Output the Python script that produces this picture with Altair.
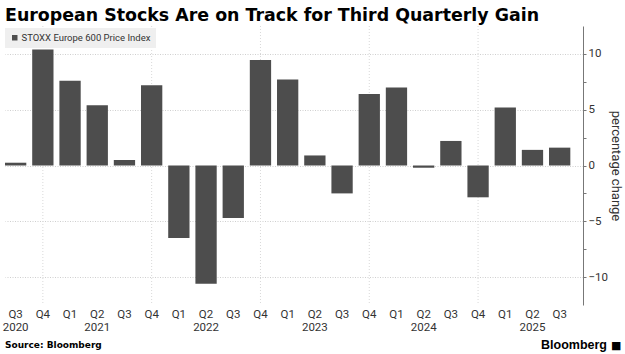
import altair as alt
import pandas as pd

years = ["2020", "2020", "2021", "2021", "2021", "2021", "2022", "2022", "2022", "2022",
         "2023", "2023", "2023", "2023", "2024", "2024", "2024", "2024", "2025", "2025", "2025"]
quarters = ["Q3", "Q4", "Q1", "Q2", "Q3", "Q4", "Q1", "Q2", "Q3", "Q4",
            "Q1", "Q2", "Q3", "Q4", "Q1", "Q2", "Q3", "Q4", "Q1", "Q2", "Q3"]
changes = [0.25, 10.4, 7.6, 5.4, 0.5, 7.2, -6.5, -10.6, -4.7, 9.45,
           7.7, 0.9, -2.5, 6.4, 7.0, -0.2, 2.2, -2.85, 5.2, 1.4, 1.6]
y_ticks = [-10, -7.5, -5, -2.5, 0, 2.5, 5, 7.5, 10]

series_name = "STOXX Europe 600 Price Index"
title_text = "European Stocks Are on Track for Third Quarterly Gain"
source_text = "Source: Bloomberg"
brand_text = "Bloomberg"

df = pd.DataFrame({
    "key": [f"{y} {q}" for y, q in zip(years, quarters)],
    "quarter": quarters,
    "year": years,
    "change": changes,
    "series": series_name,
})
df["year_label"] = [y if (q == "Q2" or i == 0) else "" for i, (y, q) in enumerate(zip(years, quarters))]
order = list(df["key"])

label_font = "Roboto"

x_enc = alt.X(
    "key:N",
    sort=order,
    scale=alt.Scale(paddingInner=0.217, paddingOuter=0.233, align=0),
    axis=None,
)

y_scale = alt.Scale(domain=[-12.5, 12.5], nice=False, zero=False)

base = alt.Chart(df)

grid_v = (
    base.mark_rule(color="#d9d9d9", strokeDash=[1, 2], strokeWidth=1)
    .encode(
        x=x_enc,
        y=alt.value(0),
        y2=alt.value(279),
        opacity=alt.condition("datum.quarter == 'Q4'", alt.value(1), alt.value(0)),
    )
)

bars = (
    base.mark_bar(stroke=None)
    .encode(
        x=x_enc,
        y=alt.Y(
            "change:Q",
            scale=y_scale,
            axis=alt.Axis(
                orient="right",
                values=y_ticks,
                title="percentage change",
                titleFont="Roboto",
                titleFontSize=13,
                titleFontWeight="normal",
                titleColor="#333333",
                titlePadding=1,
                labelExpr="datum.value % 5 == 0 ? format(datum.value, 'd') : ''",
                labelFont=label_font,
                labelFontSize=11.5,
                labelColor="#333333",
                labelPadding=2,
                domainColor="#777777",
                tickColor="#777777",
                tickSize=3,
                grid=True,
                gridColor="#cfcfcf",
                gridDash=[1, 1.5],
                gridOpacity={"condition": {"test": "datum.value % 5 == 0", "value": 1}, "value": 0},
            ),
        ),
        y2=alt.datum(0),
        color=alt.Color(
            "series:N",
            scale=alt.Scale(domain=[series_name], range=["#4d4d4d"]),
            legend=alt.Legend(
                title=None,
                orient="none",
                legendX=0,
                legendY=2,
                fillColor="#efefef",
                padding=5,
                symbolType="square",
                symbolSize=30,
                symbolStrokeWidth=0,
                labelFont=label_font,
                labelFontSize=9.5,
                labelColor="#333333",
                labelOffset=2,
            ),
        ),
    )
)

q_labels = (
    base.mark_text(align="center", baseline="middle", font=label_font, fontSize=11.5, color="#333333")
    .encode(x=x_enc, y=alt.value(289), text="quarter:N")
)

yr_labels = (
    base.mark_text(align="center", baseline="middle", font=label_font, fontSize=11.5, color="#333333")
    .encode(x=x_enc, y=alt.value(302), text="year_label:N")
)

title = (
    alt.Chart(pd.DataFrame({"t": [title_text]}))
    .mark_text(align="left", baseline="alphabetic", font="DejaVu Sans", fontWeight="bold",
               fontSize=17.4, color="#000000")
    .encode(text="t:N", x=alt.value(0), y=alt.value(-5))
)

source = (
    alt.Chart(pd.DataFrame({"t": [source_text]}))
    .mark_text(align="left", baseline="alphabetic", font="DejaVu Sans", fontWeight="bold",
               fontSize=9, color="#000000")
    .encode(text="t:N", x=alt.value(0), y=alt.value(322))
)

brand = (
    alt.Chart(pd.DataFrame({"t": [brand_text]}))
    .mark_text(align="right", baseline="alphabetic", font="Liberation Sans", fontWeight="bold",
               fontSize=12.5, color="#000000")
    .encode(text="t:N", x=alt.value(602), y=alt.value(323))
)

brand_icon = (
    alt.Chart(pd.DataFrame({"t": ["■"]}))
    .mark_text(align="left", baseline="alphabetic", font="DejaVu Sans",
               fontSize=11, color="#000000")
    .encode(text="t:N", x=alt.value(606), y=alt.value(323))
)

chart = (
    alt.layer(grid_v, bars, q_labels, yr_labels, title, source, brand, brand_icon)
    .properties(
        width=578,
        height=279,
        padding={"left": 5, "top": 26, "right": 42, "bottom": 49},
        autosize=alt.AutoSizeParams(type="none"),
        background="white",
    )
    .configure_view(stroke=None)
)

chart.save("out.html", embed_options={"renderer": "svg", "actions": False})
